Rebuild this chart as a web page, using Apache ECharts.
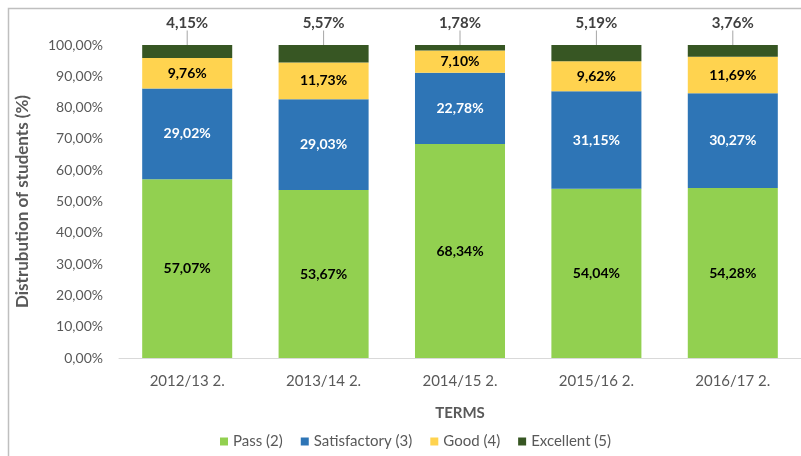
<!DOCTYPE html>
<html>
<head>
<meta charset="utf-8">
<script src="https://cdn.jsdelivr.net/npm/echarts@6/dist/echarts.min.js"></script>
<style>
  html, body { margin: 0; padding: 0; background: #fff; }
  #chart { width: 801px; height: 456px; }
</style>
</head>
<body>
<div id="chart"></div>
<script>
var terms = ['2012/13 2.', '2013/14 2.', '2014/15 2.', '2015/16 2.', '2016/17 2.'];
var pass = [57.07, 53.67, 68.34, 54.04, 54.28];
var satisfactory = [29.02, 29.03, 22.78, 31.15, 30.27];
var good = [9.76, 11.73, 7.10, 9.62, 11.69];
var excellent = [4.15, 5.57, 1.78, 5.19, 3.76];

var fmt = (v) => v.toFixed(2).replace('.', ',') + '%';
var font = 'Lato, "Open Sans", sans-serif';

var makeSeries = (name, data, color, labelColor) => ({
    name: name,
    type: 'bar',
    stack: 'all',
    data: data,
    barWidth: '66%',
    itemStyle: { color: color },
    label: {
        show: true,
        position: 'inside',
        color: labelColor,
        fontWeight: 'bold',
        fontSize: 14,
        fontFamily: font,
        formatter: (p) => fmt(p.value)
    }
});

var series = [
    makeSeries('Pass (2)', pass, '#92D050', '#000'),
    makeSeries('Satisfactory (3)', satisfactory, '#2E75B6', '#fff'),
    makeSeries('Good (4)', good, '#FFD34F', '#000'),
    makeSeries('Excellent (5)', excellent, '#375623', '#404040')
];
// callout labels above the bars, like the original
series[3].label.position = 'top';
series[3].label.fontSize = 15;
series[3].labelLayout = (p) => ({
    x: p.rect.x + p.rect.width / 2,
    y: 23,
    align: 'center',
    verticalAlign: 'middle'
});
series[3].labelLine = { show: true, length2: 0, lineStyle: { color: '#a6a6a6', width: 1 } };

var chart = echarts.init(document.getElementById('chart'));
chart.setOption({
    animation: false,
    textStyle: { fontFamily: font },
    graphic: [{
        type: 'rect',
        shape: { x: 8.5, y: 8.5, width: 800, height: 460 },
        style: { fill: 'none', stroke: '#bfbfbf', lineWidth: 1.5 },
        silent: true
    }],
    grid: { left: 119, right: 0, top: 45, bottom: 98 },
    legend: {
        bottom: 2,
        left: 215,
        itemWidth: 8,
        itemHeight: 8,
        itemGap: 18,
        icon: 'rect',
        textStyle: { color: '#595959', fontSize: 15, fontFamily: font },
        data: ['Pass (2)', 'Satisfactory (3)', 'Good (4)', 'Excellent (5)']
    },
    xAxis: {
        type: 'category',
        data: terms,
        name: 'TERMS',
        nameLocation: 'middle',
        nameGap: 48,
        nameTextStyle: { color: '#595959', fontWeight: 'bold', fontSize: 15 },
        axisLine: { lineStyle: { color: '#d9d9d9', width: 1 } },
        axisTick: { show: false },
        axisLabel: { color: '#595959', fontSize: 15, margin: 16 }
    },
    yAxis: {
        type: 'value',
        min: 0,
        max: 100,
        interval: 10,
        name: 'Distrubution of students (%)',
        nameLocation: 'middle',
        nameGap: 88,
        nameTextStyle: { color: '#595959', fontWeight: 'bold', fontSize: 17 },
        axisLine: { show: false },
        axisTick: { show: false },
        splitLine: { show: false },
        axisLabel: { color: '#595959', fontSize: 14, margin: 16, formatter: (v) => fmt(v) }
    },
    series: series
});
</script>
</body>
</html>
